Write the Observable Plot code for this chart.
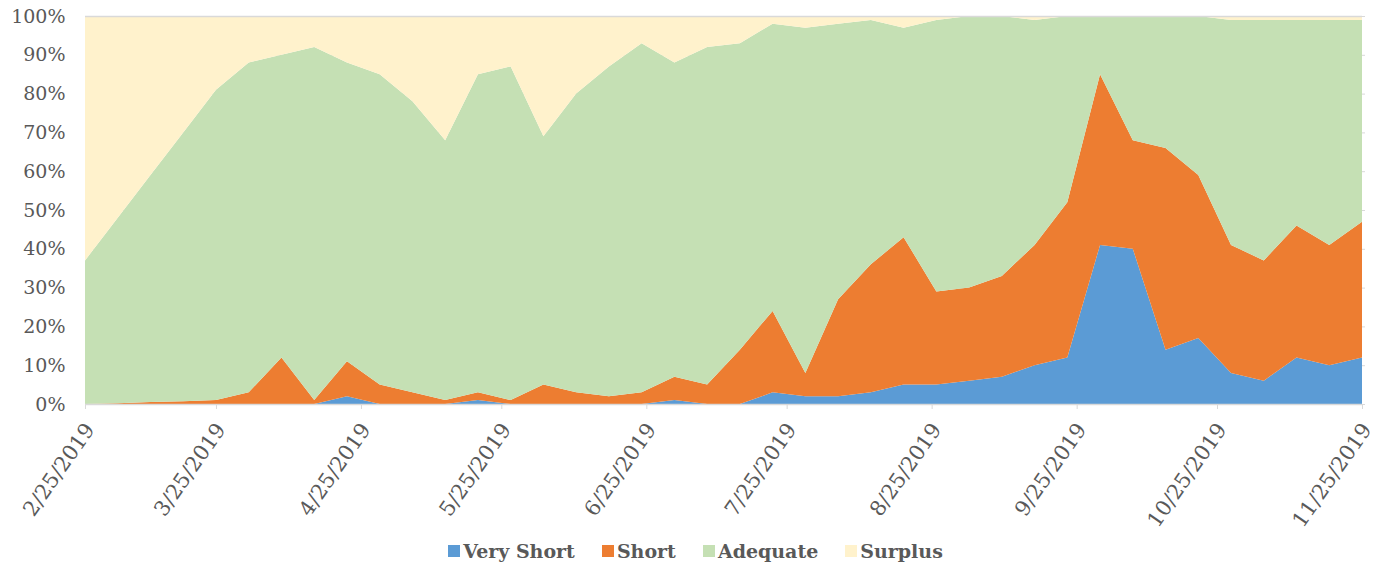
<!DOCTYPE html>
<html><head><meta charset="utf-8">
<script src="https://cdn.jsdelivr.net/npm/d3@7"></script>
<script src="https://cdn.jsdelivr.net/npm/@observablehq/plot@0.6"></script>
<style>
body{margin:0;background:#fff;font-family:"DejaVu Serif",serif;}
#chart{width:1377px;height:565px;position:relative;overflow:hidden;}
#legend{display:flex;justify-content:center;gap:27px;padding-top:11px;padding-left:14px;line-height:20px;font-weight:bold;font-size:19px;color:#595959;}
#legend .item{display:flex;align-items:center;}
#legend .sw{width:12px;height:12px;margin-right:3px;display:inline-block;}
</style></head><body><div id="chart"></div>
<script>
const dates = ["2019-02-25","2019-03-04","2019-03-11","2019-03-18","2019-03-25","2019-04-01","2019-04-08","2019-04-15","2019-04-22","2019-04-29",
"2019-05-06","2019-05-13","2019-05-20","2019-05-27","2019-06-03","2019-06-10","2019-06-17","2019-06-24","2019-07-01","2019-07-08",
"2019-07-15","2019-07-22","2019-07-29","2019-08-05","2019-08-12","2019-08-19","2019-08-26","2019-09-02","2019-09-09","2019-09-16",
"2019-09-23","2019-09-30","2019-10-07","2019-10-14","2019-10-21","2019-10-28","2019-11-04","2019-11-11","2019-11-18","2019-11-25"];
const veryShort = [0,0,0,0,0,0,0,0,2,0, 0,0,1,0,0,0,0,0,1,0, 0,3,2,2,3,5,5,6,7,10, 12,41,40,14,17,8,6,12,10,12];
const short     = [0,0.2,0.5,0.7,1,3,12,1,9,5, 3,1,2,1,5,3,2,3,6,5, 14,21,6,25,33,38,24,24,26,31, 40,44,28,52,42,33,31,34,31,35];
const adequate  = [37,47.8,58.5,69.3,80,85,78,91,77,80, 75,67,82,86,64,77,85,90,81,87, 79,74,89,71,63,54,70,70,67,58, 48,15,32,34,41,58,62,53,58,52];
const surplus   = [63,52,41,30,19,12,10,8,12,15, 22,32,15,13,31,20,13,7,12,8, 7,2,3,2,1,3,1,0,0,1, 0,0,0,0,0,1,1,1,1,1];
const seriesNames = ["Very Short","Short","Adequate","Surplus"];
const seriesColors = ["#5B9BD5","#ED7D31","#C5E0B4","#FFF2CC"];
const tickDates = ["2019-02-25","2019-03-25","2019-04-25","2019-05-25","2019-06-25","2019-07-25","2019-08-25","2019-09-25","2019-10-25","2019-11-25"];
const tickLabels = ["2/25/2019","3/25/2019","4/25/2019","5/25/2019","6/25/2019","7/25/2019","8/25/2019","9/25/2019","10/25/2019","11/25/2019"];
const yTicks = [0,10,20,30,40,50,60,70,80,90,100];

const values = [veryShort, short, adequate, surplus];
const rows = [];
seriesNames.forEach((s, k) => dates.forEach((d, i) => rows.push({date: new Date(d), series: s, value: values[k][i]})));
const tDates = tickDates.map(d => new Date(d));
const labelRows = tDates.map((d, i) => ({date: d, label: tickLabels[i]}));

const plot = Plot.plot({
  width: 1377, height: 530,
  marginLeft: 85, marginRight: 15, marginTop: 16, marginBottom: 126,
  style: {fontFamily: "DejaVu Serif", fontSize: "19px", color: "#595959", background: "#fff", overflow: "visible"},
  x: {type: "utc", domain: [new Date(dates[0]), new Date(dates[dates.length - 1])], axis: null, label: null},
  y: {domain: [0, 100], axis: null, label: null},
  color: {domain: seriesNames, range: seriesColors},
  marks: [
    Plot.ruleY(yTicks, {stroke: "#d9d9d9", insetRight: -3}),
    Plot.areaY(rows, {x: "date", y: "value", z: "series", fill: "series", order: seriesNames}),
    Plot.ruleY([100], {stroke: "#d9d9d9", strokeWidth: 1.3}),
    Plot.ruleY([0], {stroke: "#d9d9d9", strokeWidth: 1.5}),
    Plot.axisX(tDates, {anchor: "bottom", tickSize: 5, stroke: "#d9d9d9", tickFormat: () => "", label: null}),
    Plot.text(labelRows, {x: "date", frameAnchor: "bottom", text: "label", rotate: -55, textAnchor: "end", lineAnchor: "bottom",
      dx: 10, dy: 25, fill: "#595959", fontSize: 21}),
    Plot.axisY(yTicks, {anchor: "left", tickSize: 0, tickPadding: 20, fill: "#595959", tickFormat: d => d + "%", label: null})
  ]
});
const chart = document.getElementById("chart");
chart.appendChild(plot);
const legend = document.createElement("div");
legend.id = "legend";
seriesNames.forEach((s, i) => {
  const it = document.createElement("span"); it.className = "item";
  const sw = document.createElement("span"); sw.className = "sw"; sw.style.background = seriesColors[i];
  it.appendChild(sw); it.appendChild(document.createTextNode(s));
  legend.appendChild(it);
});
chart.appendChild(legend);
</script></body></html>
